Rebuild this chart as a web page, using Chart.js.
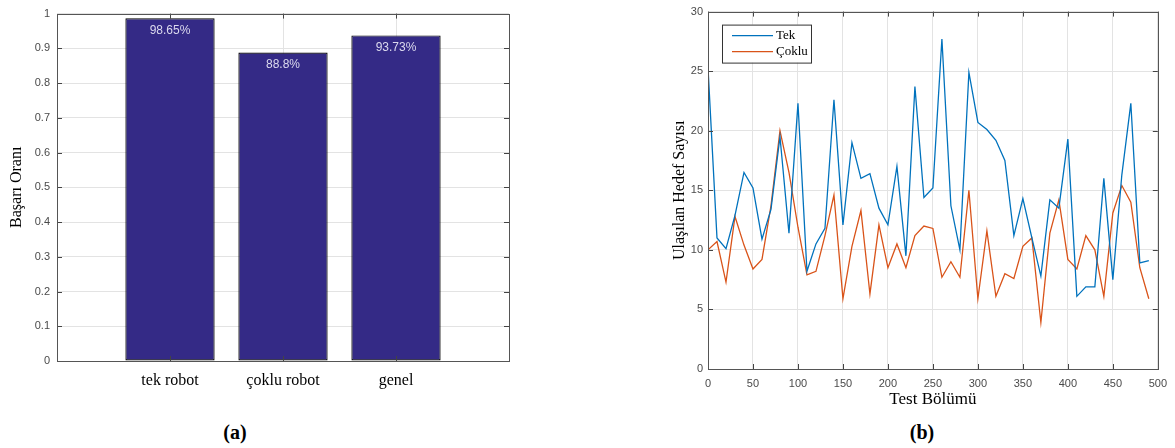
<!DOCTYPE html>
<html>
<head>
<meta charset="utf-8">
<script src="https://cdn.jsdelivr.net/npm/chart.js@4"></script>
<style>
  body { margin: 0; background: #fff; width: 1175px; height: 448px; position: relative; overflow: hidden; }
  canvas { position: absolute; }
  .cap { position: absolute; font: bold 20px "Liberation Serif", serif; color: #000; transform: translate(-50%, -50%); }
</style>
</head>
<body>
<canvas id="barChart" width="540" height="400" style="left:0;top:0"></canvas>
<canvas id="lineChart" width="535" height="412" style="left:640px;top:0"></canvas>
<div class="cap" style="left:235px;top:432px">(a)</div>
<div class="cap" style="left:922px;top:432px">(b)</div>
<script>
// bar chart data
const categories = ['tek robot', 'çoklu robot', 'genel'];
const categoryPos = [1, 2, 3];
const successRates = [0.9865, 0.888, 0.9373];

// line chart data
const episodes = [0, 10, 20, 30, 40, 50, 60, 70, 80, 90, 100, 110, 120, 130, 140, 150, 160, 170, 180, 190,
    200, 210, 220, 230, 240, 250, 260, 270, 280, 290, 300, 310, 320, 330, 340, 350, 360, 370, 380, 390,
    400, 410, 420, 430, 440, 450, 460, 470, 480, 490];
const tekValues = [25.3, 11.0, 10.1, 12.9, 16.5, 15.2, 10.9, 13.4, 19.5, 11.4, 22.3, 8.2, 10.5, 11.8, 22.6, 12.1, 19.0, 16.0, 16.4, 13.5,
    12.1, 17.0, 9.5, 23.7, 14.4, 15.2, 27.7, 13.7, 10.0, 24.9, 20.7, 20.1, 19.2, 17.5, 11.2, 14.3, 11.0, 7.8, 14.2, 13.5,
    19.3, 6.1, 6.9, 6.9, 16.0, 7.5, 16.3, 22.3, 8.9, 9.1];
const cokluValues = [10.0, 10.7, 7.3, 12.8, 10.4, 8.4, 9.2, 13.7, 20.0, 16.5, 11.9, 7.9, 8.2, 11.2, 14.6, 5.9, 10.3, 13.3, 6.3, 12.1,
    8.5, 10.5, 8.5, 11.2, 12.0, 11.8, 7.7, 9.0, 7.7, 15.0, 5.9, 11.6, 6.1, 8.0, 7.6, 10.3, 11.0, 3.9, 11.4, 14.2,
    9.2, 8.4, 11.2, 10.0, 6.1, 13.1, 15.4, 14.0, 8.5, 5.9];
const xTicks = [0, 50, 100, 150, 200, 250, 300, 350, 400, 450, 500];
const yTicksLine = [0, 5, 10, 15, 20, 25, 30];

const tickFont = { family: '"Liberation Sans", Arial, sans-serif', size: 11 };
const tickColor = '#4a4a4a';
const gridColor = '#e3e3e3';

// MATLAB style box with inward tick marks
const boxPlugin = {
    id: 'box',
    afterDraw(chart) {
        const { ctx, chartArea: a, scales } = chart;
        ctx.save();
        ctx.strokeStyle = '#444';
        ctx.lineWidth = 1;
        ctx.beginPath();
        scales.y.ticks.forEach(t => {
            const y = Math.round(scales.y.getPixelForValue(t.value)) + 0.5;
            ctx.moveTo(a.left, y); ctx.lineTo(a.left + 5, y);
            ctx.moveTo(a.right, y); ctx.lineTo(a.right - 5, y);
        });
        scales.x.ticks.forEach(t => {
            const x = Math.round(scales.x.getPixelForValue(t.value)) + 0.5;
            ctx.moveTo(x, a.bottom); ctx.lineTo(x, a.bottom - 5);
            ctx.moveTo(x, a.top); ctx.lineTo(x, a.top + 5);
        });
        ctx.stroke();
        ctx.strokeStyle = '#555';
        ctx.strokeRect(Math.round(a.left) + 0.5, Math.round(a.top) + 0.5,
            Math.round(a.right - a.left), Math.round(a.bottom - a.top));
        ctx.restore();
    }
};

const barLabelPlugin = {
    id: 'barLabels',
    afterDatasetsDraw(chart) {
        const { ctx } = chart;
        const meta = chart.getDatasetMeta(0);
        ctx.save();
        ctx.fillStyle = '#dcdaee';
        ctx.font = '12px "Liberation Sans", Arial, sans-serif';
        ctx.textAlign = 'center';
        ctx.textBaseline = 'middle';
        meta.data.forEach((bar, i) => {
            const label = +(successRates[i] * 100).toFixed(2) + '%';
            ctx.fillText(label, bar.x, bar.y + 12);
        });
        ctx.restore();
    }
};

const legendPlugin = {
    id: 'innerLegend',
    afterDraw(chart) {
        const { ctx, chartArea: a } = chart;
        const x0 = a.left + 14, y0 = a.top + 13;
        ctx.save();
        ctx.fillStyle = '#fff';
        ctx.fillRect(x0, y0, 89, 38);
        ctx.strokeStyle = '#333';
        ctx.lineWidth = 1;
        ctx.strokeRect(x0 + 0.5, y0 + 0.5, 89, 38);
        ctx.font = '13px "Liberation Serif", "Times New Roman", serif';
        ctx.textBaseline = 'middle';
        chart.data.datasets.forEach((ds, i) => {
            const y = y0 + 11 + i * 16;
            ctx.strokeStyle = ds.borderColor;
            ctx.lineWidth = 1.4;
            ctx.beginPath();
            ctx.moveTo(x0 + 10, y); ctx.lineTo(x0 + 51, y);
            ctx.stroke();
            ctx.fillStyle = '#000';
            ctx.fillText(ds.label, x0 + 54, y);
        });
        ctx.restore();
    }
};

new Chart(document.getElementById('barChart'), {
    type: 'bar',
    data: {
        datasets: [{
            data: categoryPos.map((x, i) => ({ x: x, y: successRates[i] })),
            backgroundColor: '#342a86',
            borderColor: '#000',
            borderWidth: 1.2,
            borderSkipped: false,
            barPercentage: 0.79,
            categoryPercentage: 1
        }]
    },
    options: {
        responsive: false,
        animation: false,
        layout: { padding: { top: 10, right: 31, left: 0, bottom: 0 } },
        plugins: { legend: { display: false }, tooltip: { enabled: false } },
        scales: {
            x: {
                type: 'linear',
                min: 0,
                max: 4,
                offset: false,
                afterBuildTicks: s => { s.ticks = categoryPos.map(v => ({ value: v })); },
                afterFit: s => { s.height = 39; },
                grid: { color: gridColor, drawTicks: false, offset: false },
                border: { display: false },
                ticks: {
                    padding: 10,
                    color: '#000',
                    font: { family: '"Liberation Serif", "Times New Roman", serif', size: 16 },
                    callback: v => categories[categoryPos.indexOf(v)] || ''
                }
            },
            y: {
                min: 0,
                max: 1,
                afterFit: s => { s.width = 57; },
                grid: { color: gridColor, drawTicks: false },
                border: { display: false },
                ticks: { stepSize: 0.1, padding: 7, color: tickColor, font: tickFont, callback: v => +v.toFixed(1) },
                title: {
                    display: true,
                    text: 'Başarı Oranı',
                    color: '#000',
                    padding: { top: 7, bottom: 0 },
                    font: { family: '"Liberation Serif", "Times New Roman", serif', size: 16 }
                }
            }
        }
    },
    plugins: [boxPlugin, barLabelPlugin]
});

new Chart(document.getElementById('lineChart'), {
    type: 'line',
    data: {
        datasets: [
            {
                label: 'Tek',
                data: episodes.map((x, i) => ({ x: x, y: tekValues[i] })),
                borderColor: '#0072bd',
                borderWidth: 1.3,
                pointRadius: 0,
                tension: 0
            },
            {
                label: 'Çoklu',
                data: episodes.map((x, i) => ({ x: x, y: cokluValues[i] })),
                borderColor: '#d95319',
                borderWidth: 1.3,
                pointRadius: 0,
                tension: 0
            }
        ]
    },
    options: {
        responsive: false,
        animation: false,
        layout: { padding: { top: 10, right: 12, left: 0, bottom: 0 } },
        plugins: { legend: { display: false }, tooltip: { enabled: false } },
        scales: {
            x: {
                type: 'linear',
                min: 0,
                max: 500,
                afterBuildTicks: s => { s.ticks = xTicks.map(v => ({ value: v })); },
                afterFit: s => { s.height = 43; },
                grid: { color: gridColor, drawTicks: false },
                border: { display: false },
                ticks: { padding: 8, color: tickColor, font: tickFont, maxRotation: 0 },
                title: {
                    display: true,
                    text: 'Test Bölümü',
                    color: '#000',
                    padding: { top: 0, bottom: 2 },
                    font: { family: '"Liberation Serif", "Times New Roman", serif', size: 17 }
                }
            },
            y: {
                min: 0,
                max: 30,
                afterBuildTicks: s => { s.ticks = yTicksLine.map(v => ({ value: v })); },
                afterFit: s => { s.width = 68; },
                grid: { color: gridColor, drawTicks: false },
                border: { display: false },
                ticks: { padding: 5, color: tickColor, font: tickFont },
                title: {
                    display: true,
                    text: 'Ulaşılan Hedef Sayısı',
                    color: '#000',
                    padding: { top: 30, bottom: 0 },
                    font: { family: '"Liberation Serif", "Times New Roman", serif', size: 16 }
                }
            }
        }
    },
    plugins: [boxPlugin, legendPlugin]
});
</script>
</body>
</html>
